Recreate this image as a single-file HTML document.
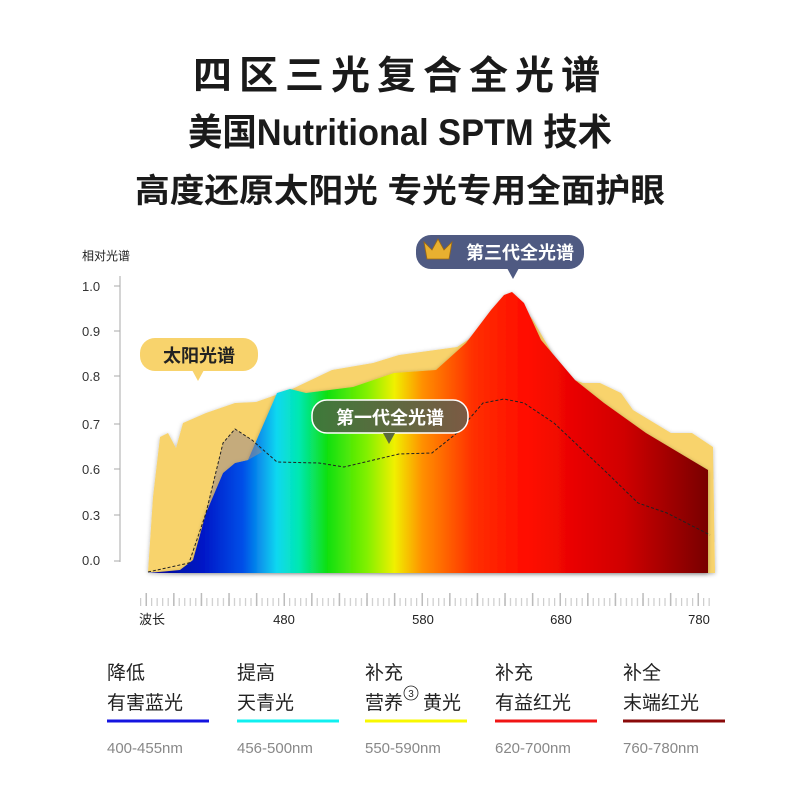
<!DOCTYPE html>
<html><head><meta charset="utf-8"><style>
body{margin:0;background:#fff;}
svg text{font-family:"Liberation Sans","Noto Sans CJK SC",sans-serif;}
</style></head><body>
<svg width="800" height="800" viewBox="0 0 800 800" xmlns="http://www.w3.org/2000/svg">
<defs>
<linearGradient id="spec" x1="148" x2="708" y1="0" y2="0" gradientUnits="userSpaceOnUse">
<stop offset="0" stop-color="#0a0a90"/>
<stop offset="0.1" stop-color="#0018c8"/>
<stop offset="0.17" stop-color="#0050e8"/>
<stop offset="0.23" stop-color="#10d8f0"/>
<stop offset="0.27" stop-color="#00e8b0"/>
<stop offset="0.32" stop-color="#10e010"/>
<stop offset="0.39" stop-color="#80f000"/>
<stop offset="0.44" stop-color="#f0f000"/>
<stop offset="0.49" stop-color="#ff9000"/>
<stop offset="0.58" stop-color="#ff3000"/>
<stop offset="0.68" stop-color="#ff0a00"/>
<stop offset="0.85" stop-color="#d00000"/>
<stop offset="1" stop-color="#780000"/>
</linearGradient>
<linearGradient id="g1" x1="0" x2="1" y1="0" y2="0">
<stop offset="0" stop-color="#3d7a3a"/><stop offset="1" stop-color="#7c5a44"/>
</linearGradient>
<pattern id="minor" x="140" y="0" width="5.52" height="20" patternUnits="userSpaceOnUse">
<rect x="0" y="0" width="1.2" height="20" fill="#ccc"/>
</pattern>
<pattern id="major" x="145.5" y="0" width="27.6" height="20" patternUnits="userSpaceOnUse">
<rect x="0" y="0" width="1.5" height="20" fill="#bbb"/>
</pattern>
<filter id="sh" x="-10%" y="-10%" width="120%" height="120%"><feDropShadow dx="0" dy="1" stdDeviation="2" flood-color="#000" flood-opacity="0.3"/></filter>
</defs>
<g text-anchor="middle" font-weight="bold" fill="#1a1a1a">
<text x="400" y="89" font-size="39" letter-spacing="7">四区三光复合全光谱</text>
<text x="188" y="145" font-size="37" textLength="424" lengthAdjust="spacingAndGlyphs" text-anchor="start">美国Nutritional SPTM 技术</text>
<text x="135" y="202" font-size="33" textLength="530" lengthAdjust="spacingAndGlyphs" text-anchor="start">高度还原太阳光 专光专用全面护眼</text>
</g>
<text x="82" y="260" font-size="12" fill="#222">相对光谱</text>
<g font-size="13" fill="#333">
<text x="82" y="291">1.0</text><text x="82" y="336">0.9</text><text x="82" y="381">0.8</text>
<text x="82" y="429">0.7</text><text x="82" y="474">0.6</text><text x="82" y="520">0.3</text><text x="82" y="565">0.0</text>
</g>
<g stroke="#aaa" stroke-width="1">
<line x1="120" y1="276" x2="120" y2="562"/>
<line x1="114" y1="286" x2="120" y2="286"/><line x1="114" y1="331" x2="120" y2="331"/>
<line x1="114" y1="376" x2="120" y2="376"/><line x1="114" y1="424" x2="120" y2="424"/>
<line x1="114" y1="469" x2="120" y2="469"/><line x1="114" y1="515" x2="120" y2="515"/>
<line x1="114" y1="561" x2="120" y2="561"/>
</g>
<path filter="url(#sh)" fill="#f8d36c" d="M148 572 L153 497 L160 437 L168 433 L176 448 L183 423 L206 413 L235 403 L256 402 L290 390 L332 370 L373 363 L399 355 L457 347 L483 330 L499 310 L512 293 L533 320 L566 377 L583 383 L600 383 L621 393 L633 410 L671 433 L692 433 L713 447 L715 573 Z"/>
<path filter="url(#sh)" fill="url(#spec)" d="M148 573 L180 570 L193 560 L206 513 L223 473 L235 463 L248 460 L264 423 L277 393 L290 389 L306 393 L353 387 L394 373 L436 370 L466 343 L491 310 L504 295 L512 292 L524 303 L541 340 L575 380 L604 403 L646 433 L708 470 L708 573 Z"/>
<path fill="#9a8a8a" opacity="0.55" d="M206 513 L223 443 L235 429 L252 440 L262 452 L248 460 L235 463 L223 473 Z"/>
<path fill="none" stroke="#222" stroke-width="1" stroke-dasharray="3,2" d="M148 572 L189 563 L206 513 L223 443 L235 429 L252 440 L277 462 L319 463 L344 467 L399 454 L432 453 L457 433 L483 403 L504 399 L524 403 L554 423 L604 470 L638 503 L667 513 L710 535"/>
<rect x="140" y="598" width="571" height="8" fill="url(#minor)"/>
<rect x="140" y="593" width="571" height="13" fill="url(#major)"/>
<g font-size="13" fill="#222" text-anchor="middle">
<text x="152" y="624">波长</text><text x="284" y="624">480</text><text x="423" y="624">580</text><text x="561" y="624">680</text><text x="699" y="624">780</text>
</g>
<rect x="140" y="338" width="118" height="33" rx="15" fill="#f8d36c"/>
<path d="M192 370 L198 381 L204 370 Z" fill="#f8d36c"/>
<text x="199" y="362" font-size="18" font-weight="bold" text-anchor="middle" fill="#222">太阳光谱</text>
<rect x="312" y="400" width="156" height="33" rx="15" fill="url(#g1)" stroke="#fff" stroke-width="1.5"/>
<path d="M383 433 L389 444 L395 433 Z" fill="#5a6a3e"/>
<text x="390" y="424" font-size="18" font-weight="bold" text-anchor="middle" fill="#fff">第一代全光谱</text>
<rect x="416" y="235" width="168" height="34" rx="15" fill="#4f5a82"/>
<path d="M507 268 L513 279 L519 268 Z" fill="#4f5a82"/>
<path d="M427 259 L424 242 L432 250 L438 239 L444 250 L452 242 L449 259 Z" fill="#e8b030" stroke="#a06a10" stroke-width="0.8"/>
<text x="520" y="259" font-size="18" font-weight="bold" text-anchor="middle" fill="#fff">第三代全光谱</text>
<g font-size="19" fill="#222">
<text x="107" y="679">降低</text><text x="107" y="709">有害蓝光</text>
<text x="237" y="679">提高</text><text x="237" y="709">天青光</text>
<text x="365" y="679">补充</text><text x="365" y="709">营养</text><text x="423" y="709">黄光</text>
<text x="495" y="679">补充</text><text x="495" y="709">有益红光</text>
<text x="623" y="679">补全</text><text x="623" y="709">末端红光</text>
</g>
<circle cx="411" cy="693" r="7" fill="none" stroke="#222" stroke-width="0.8"/>
<text x="411" y="697" font-size="10" text-anchor="middle" fill="#222">3</text>
<g stroke-width="3">
<line x1="107" y1="721" x2="209" y2="721" stroke="#1414e0"/>
<line x1="237" y1="721" x2="339" y2="721" stroke="#10f0f0"/>
<line x1="365" y1="721" x2="467" y2="721" stroke="#f8f800"/>
<line x1="495" y1="721" x2="597" y2="721" stroke="#f01414"/>
<line x1="623" y1="721" x2="725" y2="721" stroke="#8a0a0a"/>
</g>
<g font-size="15" fill="#888">
<text x="107" y="753">400-455nm</text><text x="237" y="753">456-500nm</text><text x="365" y="753">550-590nm</text>
<text x="495" y="753">620-700nm</text><text x="623" y="753">760-780nm</text>
</g>
</svg>
</body></html>
